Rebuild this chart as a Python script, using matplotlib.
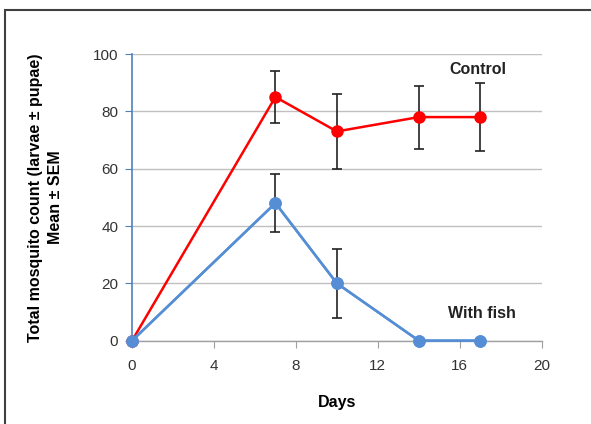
import matplotlib
matplotlib.use('Agg')
import matplotlib.pyplot as plt
from matplotlib.patches import Rectangle

plt.rcParams['font.family'] = ['Liberation Sans', 'DejaVu Sans']

days = [0, 7, 10, 14, 17]
control = [0, 85, 73, 78, 78]
control_err = [0, 9, 13, 11, 12]
fish = [0, 48, 20, 0, 0]
fish_err = [0, 10, 12, 0, 0]

fig = plt.figure(figsize=(5.91, 4.24), dpi=100)
ax = fig.add_axes([0.2234, 0.1965, 0.6932, 0.6761])

# frame around the figure (top and left visible)
fig.patches.append(Rectangle((5 / 591, -0.1), 1.2, 1.1 - 10 / 424, transform=fig.transFigure,
                             fill=False, edgecolor='#404040', linewidth=1.5))

ax.set_xlim(0, 20)
ax.set_ylim(0, 100)
ax.set_xticks([0, 4, 8, 12, 16, 20])
ax.set_yticks([0, 20, 40, 60, 80, 100])
ax.yaxis.grid(True, color='#c0c0c0', linewidth=1)
ax.set_axisbelow(True)

for s in ['top', 'right']:
    ax.spines[s].set_visible(False)
ax.spines['left'].set_color('#4f81bd')
ax.spines['left'].set_linewidth(1.2)
ax.spines['bottom'].set_color('#a0a0a0')
ax.spines['bottom'].set_linewidth(1)
ax.tick_params(axis='y', colors='#4f81bd', labelcolor='#333333', length=5, labelsize=11, pad=5)
ax.tick_params(axis='x', colors='#a0a0a0', labelcolor='#333333', length=5, labelsize=11, pad=8)

ax.errorbar(days, control, yerr=control_err, color='#ff0000', lw=1.8, marker='o', ms=8,
            ecolor='#222222', elinewidth=1.2, capsize=3.5, capthick=1.2, zorder=3, clip_on=False)
ax.errorbar(days, fish, yerr=fish_err, color='#558ed5', lw=1.8, marker='o', ms=8,
            ecolor='#222222', elinewidth=1.2, capsize=3.5, capthick=1.2, zorder=3, clip_on=False)
ax.plot(days, fish, color='#558ed5', lw=1.8, marker='o', ms=8, zorder=4, clip_on=False)

ax.text(16.9, 94.5, 'Control', fontsize=11.5, fontweight='bold', ha='center', va='center', color='#222222')
ax.text(17.1, 9.6, 'With fish', fontsize=11.5, fontweight='bold', ha='center', va='center', color='#222222')

ax.set_xlabel('Days', fontsize=11.5, fontweight='bold', labelpad=16)
ax.set_ylabel('Total mosquito count (larvae \u00b1 pupae)\nMean \u00b1 SEM', fontsize=11.5,
              fontweight='bold', labelpad=21, linespacing=1.45)

fig.savefig('out.png', dpi=100)
